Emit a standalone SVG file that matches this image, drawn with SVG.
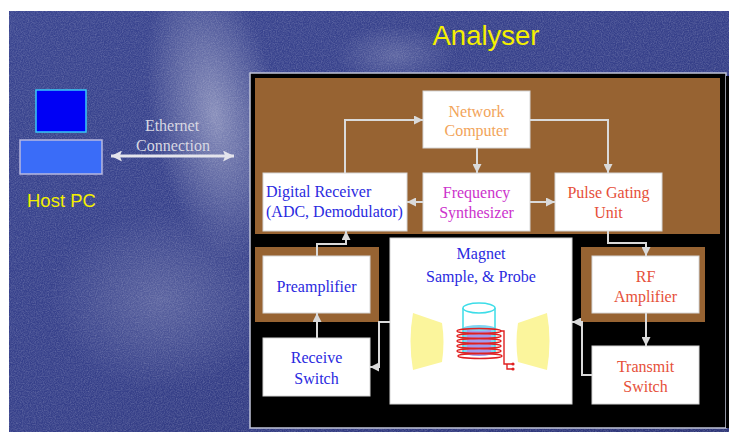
<svg xmlns="http://www.w3.org/2000/svg" width="729" height="432" viewBox="0 0 729 432">
  <style>
    .box { fill: #ffffff; stroke: #d6d6d6; stroke-width: 1; }
    .frame { fill: #976332; }
    .lbl { font-family: "Liberation Serif", "Times New Roman", serif; font-size: 16px; text-anchor: middle; }
    .left { text-anchor: start; }
    .blue { fill: #2a2ae0; }
    .red { fill: #e6503a; }
    .orange { fill: #f2a45a; }
    .magenta { fill: #cc33cc; }
    .title { font-family: "Liberation Sans", Arial, sans-serif; fill: #f4f000; }
    .wire { fill: none; stroke: #dadada; stroke-width: 2; }
    .coil { fill: none; stroke: #e02020; stroke-width: 1.4; }
    .pole { fill: #fbf59c; }
  </style>
  <defs>
    <linearGradient id="bg" x1="0" y1="0" x2="1" y2="1">
      <stop offset="0" stop-color="#3a4590"/>
      <stop offset="0.5" stop-color="#36408a"/>
      <stop offset="1" stop-color="#2c3476"/>
    </linearGradient>
    <radialGradient id="streak" cx="0.5" cy="0.5" r="0.5">
      <stop offset="0" stop-color="#ffffff" stop-opacity="0.4"/>
      <stop offset="0.6" stop-color="#ffffff" stop-opacity="0.16"/>
      <stop offset="1" stop-color="#ffffff" stop-opacity="0"/>
    </radialGradient>
    <radialGradient id="soft" cx="0.5" cy="0.5" r="0.5">
      <stop offset="0" stop-color="#ffffff" stop-opacity="0.18"/>
      <stop offset="1" stop-color="#ffffff" stop-opacity="0"/>
    </radialGradient>
    <filter id="grain" x="0" y="0" width="1" height="1">
      <feTurbulence type="fractalNoise" baseFrequency="0.85" numOctaves="2" stitchTiles="stitch"/>
      <feColorMatrix type="matrix" values="0 0 0 0 1  0 0 0 0 1  0 0 0 0 1  0.35 0 0 0 -0.12"/>
    </filter>
    <marker id="arr" viewBox="0 0 10 10" refX="10" refY="5" markerWidth="9" markerHeight="9" markerUnits="userSpaceOnUse" orient="auto">
      <path d="M0,0 L10,5 L0,10 z" fill="#dadada"/>
    </marker>
    <marker id="eth" viewBox="0 0 10 10" refX="10" refY="5" markerWidth="12" markerHeight="11" markerUnits="userSpaceOnUse" orient="auto-start-reverse">
      <path d="M0,0 L10,5 L0,10 L2,5 z" fill="#e4e4ec"/>
    </marker>
  </defs>

  <!-- slide background -->
  <rect x="0" y="0" width="729" height="432" fill="#ffffff"/>
  <rect x="9" y="11" width="720" height="421" fill="url(#bg)"/>
  <ellipse cx="215" cy="115" rx="65" ry="150" fill="url(#streak)" transform="rotate(-10 215 115)"/>
  <ellipse cx="395" cy="55" rx="60" ry="30" fill="url(#soft)"/>
  <ellipse cx="160" cy="300" rx="110" ry="90" fill="url(#soft)"/>
  <rect x="9" y="11" width="720" height="421" filter="url(#grain)"/>

  <!-- titles -->
  <text class="title" x="486" y="45" font-size="27.5" text-anchor="middle">Analyser</text>

  <!-- host PC -->
  <g id="host-pc">
    <rect x="36" y="90" width="50" height="42" fill="#0000f5" stroke="#38c8f8" stroke-width="1.5"/>
    <rect x="20" y="140" width="82" height="34" fill="#3a6cf8" stroke="#b8b8e0" stroke-width="1.5"/>
    <text class="title" x="27" y="207" font-size="18.5">Host PC</text>
  </g>

  <!-- ethernet link -->
  <g id="ethernet">
    <line x1="111" y1="156" x2="234" y2="156" stroke="#e4e4ec" stroke-width="3" marker-start="url(#eth)" marker-end="url(#eth)"/>
    <text class="lbl" x="172" y="131" fill="#d8d8e2" font-size="15.5">Ethernet</text>
    <text class="lbl" x="173" y="151" fill="#d8d8e2" font-size="15.5">Connection</text>
  </g>

  <!-- analyser enclosure -->
  <g id="analyser">
    <rect x="250" y="73" width="476" height="355" fill="#000000" stroke="#c0c4d8" stroke-width="1.5"/>
    <rect x="726" y="76" width="3" height="352" fill="#000000"/>
    <rect class="frame" x="255" y="78" width="465" height="156"/>
  </g>

  <g id="network-computer">
    <rect class="box" x="423" y="91" width="107" height="57"/>
    <text class="lbl orange" x="476.5" y="117">Network</text>
    <text class="lbl orange" x="476.5" y="136">Computer</text>
  </g>

  <g id="digital-receiver">
    <rect class="box" x="263" y="173" width="144" height="58"/>
    <text class="lbl left blue" x="266" y="197">Digital Receiver</text>
    <text class="lbl left blue" x="266" y="217">(ADC, Demodulator)</text>
  </g>

  <g id="frequency-synthesizer">
    <rect class="box" x="423" y="173" width="107" height="58"/>
    <text class="lbl magenta" x="476.5" y="198">Frequency</text>
    <text class="lbl magenta" x="476.5" y="218">Synthesizer</text>
  </g>

  <g id="pulse-gating-unit">
    <rect class="box" x="555" y="173" width="107" height="58"/>
    <text class="lbl red" x="608.5" y="198">Pulse Gating</text>
    <text class="lbl red" x="608.5" y="218">Unit</text>
  </g>

  <g id="preamplifier">
    <rect class="frame" x="255" y="247" width="124" height="75"/>
    <rect class="box" x="263" y="256" width="107" height="57"/>
    <text class="lbl blue" x="316.5" y="292">Preamplifier</text>
  </g>

  <g id="receive-switch">
    <rect class="box" x="263" y="338" width="107" height="58"/>
    <text class="lbl blue" x="316.5" y="363">Receive</text>
    <text class="lbl blue" x="316.5" y="384">Switch</text>
  </g>

  <g id="rf-amplifier">
    <rect class="frame" x="581" y="247" width="124" height="75"/>
    <rect class="box" x="592" y="256" width="107" height="57"/>
    <text class="lbl red" x="645.5" y="282">RF</text>
    <text class="lbl red" x="645.5" y="302">Amplifier</text>
  </g>

  <g id="transmit-switch">
    <rect class="box" x="592" y="346" width="107" height="58"/>
    <text class="lbl red" x="645.5" y="372">Transmit</text>
    <text class="lbl red" x="645.5" y="392">Switch</text>
  </g>

  <g id="magnet">
    <rect class="box" x="390" y="238" width="182" height="166"/>
    <text class="lbl blue" x="481" y="259">Magnet</text>
    <text class="lbl blue" x="481" y="282">Sample, &amp; Probe</text>
    <!-- pole pieces -->
    <path class="pole" d="M413,313 Q408,341 413,370 L442,362 Q445,342 442,323 Z"/>
    <path class="pole" d="M547,313 Q552,341 547,370 L518,362 Q515,342 518,323 Z"/>
    <!-- sample tube -->
    <path d="M463,328 V352 A16,4 0 0 0 495,352 V328 Z" fill="#a29cee"/>
    <path d="M463,328 h4 v24 h-4 Z M491,328 h4 v24 h-4 Z" fill="#7fd4f2"/>
    <ellipse cx="479" cy="328" rx="16" ry="3" fill="#7fd4f2"/>
    <path d="M463,308 V352 M495,308 V352" stroke="#3ddde8" stroke-width="1.5" fill="none"/>
    <ellipse cx="479" cy="308" rx="16" ry="5" fill="#ffffff" stroke="#3ddde8" stroke-width="1.5"/>
    <!-- RF coil -->
    <ellipse class="coil" cx="479" cy="331" rx="22" ry="2.5"/>
    <ellipse class="coil" cx="479" cy="336" rx="22" ry="2.5"/>
    <ellipse class="coil" cx="479" cy="341" rx="22" ry="2.5"/>
    <ellipse class="coil" cx="479" cy="346" rx="22" ry="2.5"/>
    <ellipse class="coil" cx="479" cy="351" rx="22" ry="2.5"/>
    <ellipse class="coil" cx="480" cy="356" rx="22" ry="2.5"/>
    <path class="coil" d="M501,331 H504 V360 M504,360 V364 H513 M507,364 V369 H513"/>
    <circle cx="513" cy="364" r="1.6" fill="#e02020"/>
    <circle cx="513" cy="369" r="1.6" fill="#e02020"/>
  </g>

  <!-- connectors, drawn over the frames so the arrowheads stay visible -->
  <g id="connectors">
    <path class="wire" d="M345,173 V120 H423" marker-end="url(#arr)"/>
    <path class="wire" d="M477,148 V173" marker-end="url(#arr)"/>
    <path class="wire" d="M530,120 H608 V173" marker-end="url(#arr)"/>
    <path class="wire" d="M423,202 H407" marker-end="url(#arr)"/>
    <path class="wire" d="M530,202 H555" marker-end="url(#arr)"/>
    <path class="wire" d="M608,231 V243 H646 V256" marker-end="url(#arr)"/>
    <path class="wire" d="M646,313 V346" marker-end="url(#arr)"/>
    <path class="wire" d="M592,375 H582 V322 H572" marker-end="url(#arr)"/>
    <path class="wire" d="M390,322 H379 V367 H370" marker-end="url(#arr)"/>
    <path class="wire" d="M317,338 V313" marker-end="url(#arr)"/>
    <path class="wire" d="M317,256 V244 H346 V231" marker-end="url(#arr)"/>
  </g>
</svg>
